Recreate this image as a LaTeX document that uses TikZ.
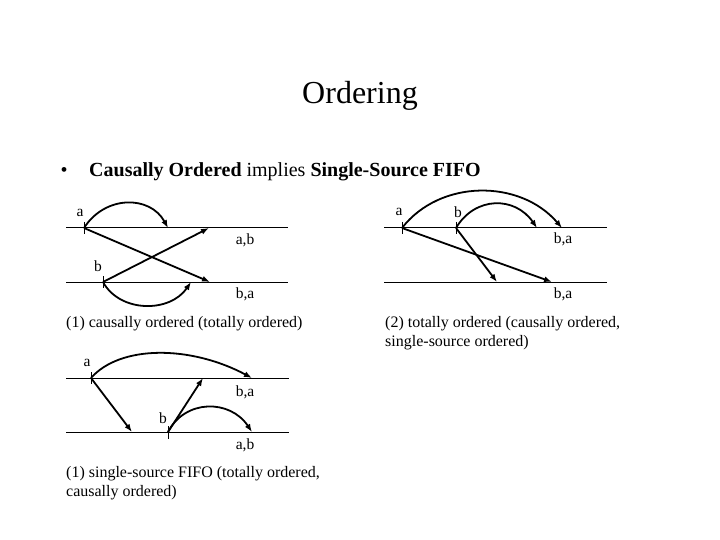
\documentclass[tikz,border=0pt]{standalone}
\usepackage{fontspec}
\setmainfont{Liberation Serif}
\usetikzlibrary{arrows.meta,calc}
\tikzset{
  timeline/.style={line width=1pt},
  msg/.style={line width=1.8pt,-{Latex[length=8pt,width=6pt]}},
  tickmark/.style={line width=1pt},
  lbl/.style={font=\fontsize{15.5}{17}\selectfont,inner sep=0pt},
  captext/.style={font=\fontsize{16}{19}\selectfont,inner sep=0pt,anchor=north west,align=left},
}
\begin{document}
\begin{tikzpicture}[x=1pt,y=-1pt]
\useasboundingbox (0,0) rectangle (720,540);
% title
\node[inner sep=0pt,font=\fontsize{32}{36}\selectfont] (title) at (360,96) {Ordering};
\node[inner sep=0pt,font=\fontsize{20}{24}\selectfont] (bullet) at (64,172) {•};
\node[inner sep=0pt,anchor=west,font=\fontsize{20}{24}\selectfont] (head) at (89,172) {\textbf{Causally Ordered} implies \textbf{Single-Source FIFO}};

% ---------- diagram 1 ----------
\coordinate (l1s) at (66,228); \coordinate (l1e) at (288,228);
\coordinate (l2s) at (66,282); \coordinate (l2e) at (288,282);
\draw[timeline] (l1s) -- (l1e);
\draw[timeline] (l2s) -- (l2e);
\coordinate (a1) at (84,228);
\coordinate (b1) at (103,282);
\coordinate (a1self) at (168,228);
\coordinate (a1other) at (210,282);
\coordinate (b1self) at (191,282);
\coordinate (b1other) at (209,228);
\draw[tickmark] ($(a1)+(0,-6)$) -- ($(a1)+(0,6)$);
\draw[tickmark] ($(b1)+(0,-6)$) -- ($(b1)+(0,6)$);
\draw[msg] (a1) .. controls (105,195) and (150,195) .. (a1self);
\draw[msg] (a1) -- (a1other);
\draw[msg] (b1) .. controls (120,313) and (170,313) .. (b1self);
\draw[msg] (b1) -- (b1other);
\node[lbl] (la1) at (80,213) {a};
\node[lbl] (lb1) at (98,266) {b};
\node[lbl] (lab1) at (245,240) {a,b};
\node[lbl] (lba1) at (245,294) {b,a};
\node[captext] (cap1) at (66,316) {(1) causally ordered (totally ordered)};

% ---------- diagram 2 ----------
\coordinate (m1s) at (384,228); \coordinate (m1e) at (607,228);
\coordinate (m2s) at (384,282); \coordinate (m2e) at (607,282);
\draw[timeline] (m1s) -- (m1e);
\draw[timeline] (m2s) -- (m2e);
\coordinate (a2) at (402,228);
\coordinate (b2) at (456,228);
\coordinate (a2self) at (562,228);
\coordinate (a2other) at (552,282);
\coordinate (b2self) at (537,228);
\coordinate (b2other) at (497,282);
\draw[tickmark] ($(a2)+(0,-6)$) -- ($(a2)+(0,6)$);
\draw[tickmark] ($(b2)+(0,-6)$) -- ($(b2)+(0,6)$);
\draw[msg] (a2) .. controls (440,179) and (520,179) .. (a2self);
\draw[msg] (a2) -- (a2other);
\draw[msg] (b2) .. controls (475,196) and (515,196) .. (b2self);
\draw[msg] (b2) -- (b2other);
\node[lbl] (la2) at (399,212) {a};
\node[lbl] (lb2) at (458,212) {b};
\node[lbl] (lba2) at (563,239) {b,a};
\node[lbl] (lba2b) at (563,294) {b,a};
\node[captext] (cap2) at (385,316) {(2) totally ordered (causally ordered,\\single-source ordered)};

% ---------- diagram 3 ----------
\coordinate (n1s) at (66,378); \coordinate (n1e) at (289,378);
\coordinate (n2s) at (66,432); \coordinate (n2e) at (289,432);
\draw[timeline] (n1s) -- (n1e);
\draw[timeline] (n2s) -- (n2e);
\coordinate (a3) at (91,378);
\coordinate (b3) at (168,432);
\coordinate (a3self) at (252,378);
\coordinate (a3other) at (132,432);
\coordinate (b3self) at (252,432);
\coordinate (b3other) at (203,378);
\draw[tickmark] ($(a3)+(0,-6)$) -- ($(a3)+(0,6)$);
\draw[tickmark] ($(b3)+(0,-6)$) -- ($(b3)+(0,7)$);
\draw[msg] (a3) .. controls (120,345) and (190,345) .. (a3self);
\draw[msg] (a3) -- (a3other);
\draw[msg] (b3) .. controls (185,399) and (230,399) .. (b3self);
\draw[msg] (b3) -- (b3other);
\node[lbl] (la3) at (87,363) {a};
\node[lbl] (lb3) at (163,418) {b};
\node[lbl] (lba3) at (245,392) {b,a};
\node[lbl] (lab3) at (245,445) {a,b};
\node[captext] (cap3) at (66,466) {(1) single-source FIFO (totally ordered,\\causally ordered)};
\end{tikzpicture}
\end{document}
